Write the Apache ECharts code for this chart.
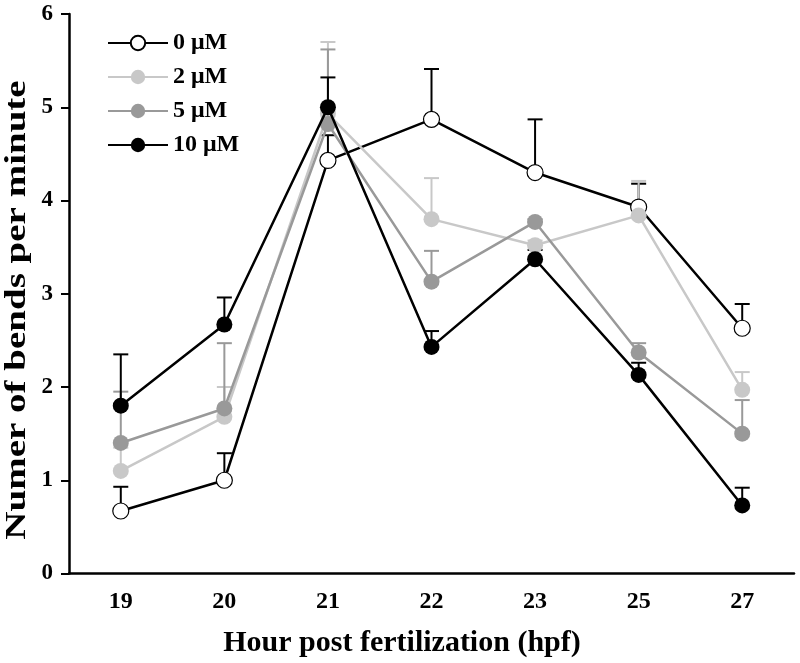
<!DOCTYPE html>
<html><head><meta charset="utf-8">
<script src="https://cdn.jsdelivr.net/npm/echarts@6/dist/echarts.min.js"></script>
<style>html,body{margin:0;padding:0;background:#fff}#c{width:800px;height:663px}</style>
</head><body><div id="c"></div>
<script>
const categories = ['19','20','21','22','23','25','27'];
const seriesNames = ['0 μM','2 μM','5 μM','10 μM'];
const v0  = [0.67, 1.00, 4.43, 4.87, 4.30, 3.93, 2.63];
const e0  = [0.93, 1.29, 4.70, 5.41, 4.87, 4.18, 2.89];
const v2  = [1.10, 1.68, 4.93, 3.80, 3.52, 3.84, 1.97];
const e2  = [1.35, 2.00, 5.70, 4.24, 3.57, 4.21, 2.16];
const v5  = [1.40, 1.77, 4.82, 3.13, 3.77, 2.37, 1.50];
const e5  = [1.95, 2.47, 5.62, 3.46, 3.80, 2.47, 1.86];
const v10 = [1.80, 2.67, 5.00, 2.43, 3.37, 2.13, 0.73];
const e10 = [2.35, 2.96, 5.32, 2.60, 3.47, 2.26, 0.92];
const yTicks = [0,1,2,3,4,5,6];
const xTitle = 'Hour post fertilization (hpf)';
const yTitle = 'Numer of bends per minute';

const font = '"Liberation Serif","Times New Roman",serif';
const lineColors = ['#000000','#c8c8c8','#999999','#000000'];
const fillColors = ['#ffffff','#c8c8c8','#999999','#000000'];
const vals = [v0,v2,v5,v10];
const errs = [e0,e2,e5,e10];

const series = [];
vals.forEach((v,si)=>{
  series.push({
    type:'custom', name:'err'+si, z:1, silent:true,
    data: v.map((val,i)=>[i,val,errs[si][i]]),
    renderItem:(params,api)=>{
      const p0 = api.coord([api.value(0), api.value(1)]);
      const p1 = api.coord([api.value(0), api.value(2)]);
      const hw = 7.5;
      const st = {stroke: lineColors[si], lineWidth: 2};
      return {type:'group', children:[
        {type:'line', shape:{x1:p0[0],y1:p0[1],x2:p1[0],y2:p1[1]}, style:st},
        {type:'line', shape:{x1:p1[0]-hw,y1:p1[1],x2:p1[0]+hw,y2:p1[1]}, style:st}
      ]};
    }
  });
});
[1,2,0,3].forEach(si=>{
  series.push({
    type:'line', name:seriesNames[si], data:vals[si], z:2+si,
    symbol:'circle', symbolSize:16,
    lineStyle:{color:lineColors[si], width:2.5},
    itemStyle:{color:fillColors[si], borderColor: si===0 ? '#000' : fillColors[si], borderWidth: si===0?1.2:0, opacity:1},
    emphasis:{disabled:true}, animation:false
  });
});

const chart = echarts.init(document.getElementById('c'));
chart.setOption({
  animation:false,
  backgroundColor:'#fff',
  grid:{left:69, right:6, top:14, bottom:89.5, containLabel:false, outerBoundsMode:'none'},
  legend:{
    data:seriesNames, orient:'vertical', left:102, top:26, padding:5,
    itemWidth:60, itemHeight:18, itemGap:10,
    textStyle:{fontFamily:font, fontWeight:'bold', fontSize:24, color:'#000'},
    selectedMode:false
  },
  graphic:[{
    type:'text', x:17, y:310, rotation:Math.PI/2, scaleX:1.3, scaleY:1,
    style:{text:yTitle, fontFamily:font, fontWeight:'bold', fontSize:30, fill:'#000', align:'center', verticalAlign:'middle'}
  },{
    type:'text', x:402, y:643,
    style:{text:xTitle, fontFamily:font, fontWeight:'bold', fontSize:30, fill:'#000', align:'center', verticalAlign:'middle'}
  }],
  xAxis:{
    type:'category', data:categories, boundaryGap:true,
    axisLine:{lineStyle:{color:'#000', width:2.5}},
    axisTick:{alignWithLabel:true, length:8, lineStyle:{color:'#000', width:2}},
    axisLabel:{fontFamily:font, fontWeight:'bold', fontSize:24, color:'#000', margin:16}
  },
  yAxis:{
    type:'value', min:0, max:6, interval:1,
    axisLine:{show:true, lineStyle:{color:'#000', width:2.5}},
    axisTick:{show:true, length:8, lineStyle:{color:'#000', width:2}},
    splitLine:{show:false},
    axisLabel:{fontFamily:font, fontWeight:'bold', fontSize:23, color:'#000', margin:16,
      formatter:(v)=> yTicks.includes(v) ? String(v) : ''}
  },
  series:series
});
</script></body></html>
